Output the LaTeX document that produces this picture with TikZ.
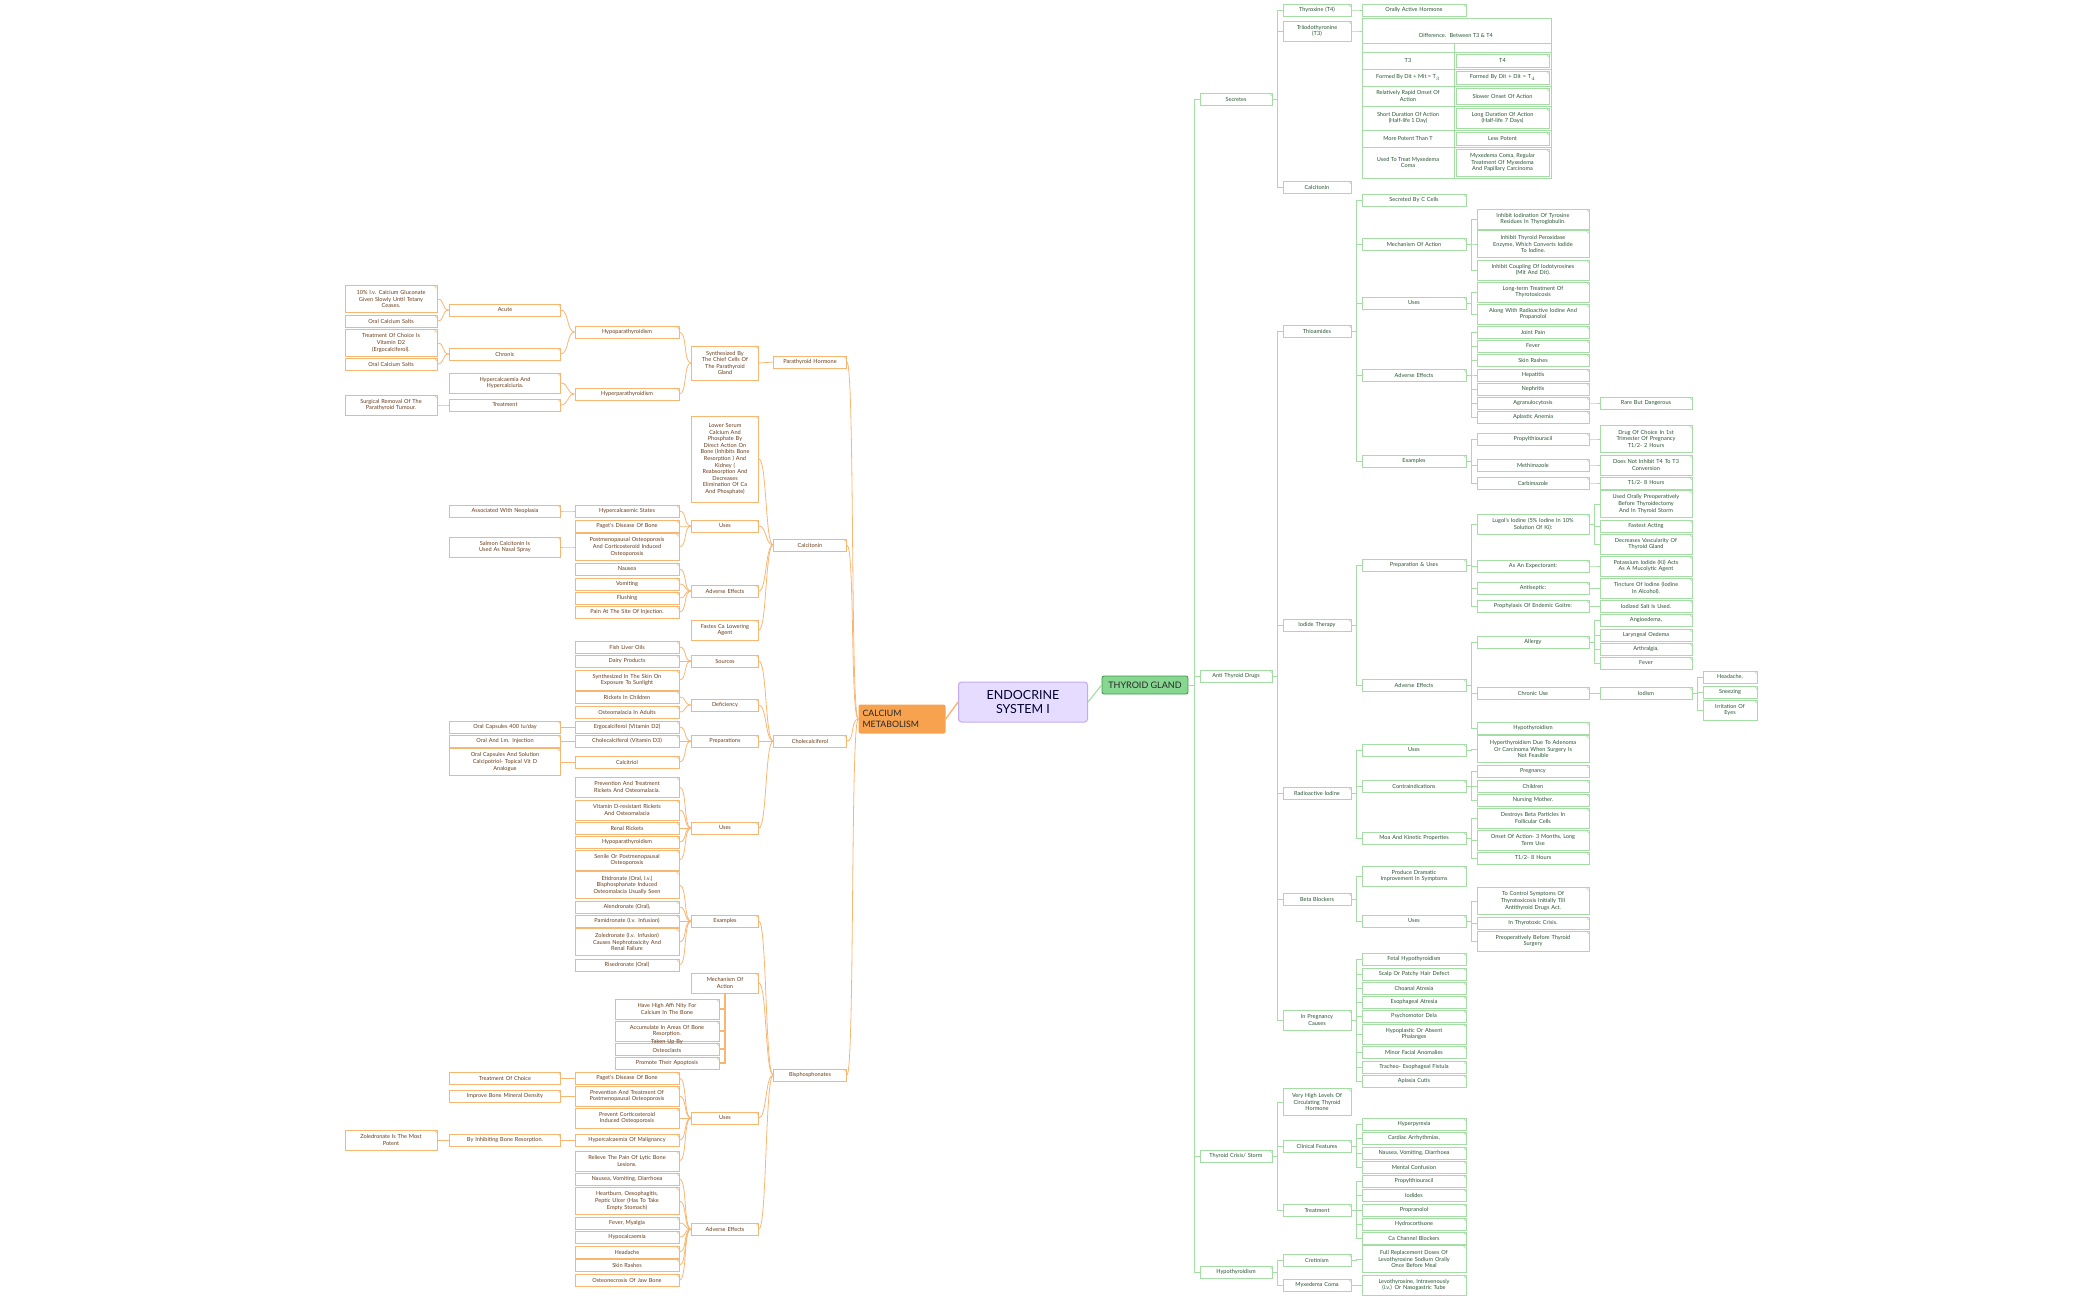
\documentclass[tikz,border=0pt]{standalone}
\usepackage{fontspec}
\setmainfont{Lato}
\definecolor{gline}{RGB}{165,222,165}
\definecolor{gtext}{RGB}{40,85,50}
\definecolor{oline}{RGB}{248,182,115}
\definecolor{otext}{RGB}{105,60,25}
\definecolor{lav}{RGB}{230,220,255}
\definecolor{lavb}{RGB}{195,170,240}
\definecolor{thyf}{RGB}{135,215,145}
\definecolor{thyb}{RGB}{60,150,75}
\definecolor{cmf}{RGB}{246,162,78}
\newcommand\fs{\fontsize{5.6}{6.6}\selectfont}
\tikzset{
 gb/.style={draw=gline,line width=0.7pt,fill=white,text=gtext,align=center,inner xsep=2pt,inner ysep=0pt,font=\fs,
   path picture={\draw[gline,line width=0.5pt] ([xshift=-3pt]path picture bounding box.north east) -- ([yshift=-3pt]path picture bounding box.north east);}},
 ob/.style={draw=oline,line width=0.7pt,fill=white,text=otext,align=center,inner xsep=2pt,inner ysep=0pt,font=\fs,
   path picture={\draw[oline,line width=0.5pt] ([xshift=-3pt]path picture bounding box.north east) -- ([yshift=-3pt]path picture bounding box.north east);}},
 ge/.style={draw=gline,line width=0.8pt},
 oe/.style={draw=oline,line width=0.8pt},
 tc/.style={text=gtext,align=center,font=\fs,inner sep=0pt},
}
\newcommand\B[7]{\pgfmathsetmacro\tw{#5-4}\node[#1,text width=\tw pt,minimum height=#6pt] (#2) at (#3,#4) {#7};}
\newcommand\gA[4]{\B{gb}{#1}{1236}{#2}{72}{#3}{#4}}
\newcommand\gB[4]{\B{gb}{#1}{1317}{#2}{68}{#3}{#4}}
\newcommand\gC[4]{\B{gb}{#1}{1414}{#2}{104}{#3}{#4}}
\newcommand\gD[4]{\B{gb}{#1}{1533}{#2}{112}{#3}{#4}}
\newcommand\gE[4]{\B{gb}{#1}{1646}{#2}{92}{#3}{#4}}
\newcommand\gF[4]{\B{gb}{#1}{1730}{#2}{54}{#3}{#4}}
\newcommand\oA[4]{\B{ob}{#1}{810}{#2}{73}{#3}{#4}}
\newcommand\oB[4]{\B{ob}{#1}{725}{#2}{67}{#3}{#4}}
\newcommand\oC[4]{\B{ob}{#1}{627}{#2}{104}{#3}{#4}}
\newcommand\oD[4]{\B{ob}{#1}{505}{#2}{111}{#3}{#4}}
\newcommand\oE[4]{\B{ob}{#1}{391}{#2}{92}{#3}{#4}}
\newcommand\oM[4]{\B{ob}{#1}{667}{#2}{104}{#3}{#4}}
\newcommand\GEdge[2]{\foreach \c in {#2}{\draw[ge] (#1.east) -- ++(5.5,0) |- (\c.west);}}
\newcommand\OEdge[2]{\foreach \c in {#2}{\draw[oe] (#1.west) .. controls +(-8,0) and +(8,0) .. (\c.east);}}
\begin{document}
\begin{tikzpicture}[x=1pt,y=-1pt]
\useasboundingbox (0,0) rectangle (2099,1299);
% headers
\node[draw=lavb,fill=lav,line width=1pt,rounded corners=3pt,minimum width=129pt,minimum height=40pt,align=center,text=black!80!blue,font=\fontsize{12.5}{14}\selectfont,inner sep=0pt] (endo) at (1023,702) {ENDOCRINE\\SYSTEM I};
\node[draw=thyb,fill=thyf,line width=0.8pt,rounded corners=2pt,minimum width=86pt,minimum height=18pt,text=black!85,font=\fontsize{9}{10}\selectfont,inner sep=0pt] (thy) at (1145,685) {THYROID GLAND};
\node[fill=cmf,rounded corners=2pt,minimum width=87pt,minimum height=29pt,text width=79pt,align=left,text=black!85,font=\fontsize{8.8}{10.5}\selectfont,inner xsep=4pt,inner ysep=0pt] (cm) at (902,719) {CALCIUM\\METABOLISM};
\draw[ge,line width=1.2pt] (endo.east) -- (thy.west);
\draw[oe,line width=1.4pt] (cm.east) -- (endo.west);
% ===== green =====
\gA{sec}{99}{12}{Secretes}
\gA{atd}{676}{12}{Anti Thyroid Drugs}
\gA{tcs}{1156}{12}{Thyroid Crisis/ Storm}
\gA{hypo}{1272}{12}{Hypothyroidism}
\gB{t4}{10}{12}{Thyroxine (T4)}
\gB{t3}{31}{20}{Triiodothyronine\\(T3)}
\gB{calc}{187}{12}{Calcitonin}
\gB{thio}{331}{12}{Thioamides}
\gB{iod}{625}{12}{Iodide Therapy}
\gB{rai}{793}{12}{Radioactive Iodine}
\gB{bb}{899}{12}{Beta Blockers}
\gB{preg}{1020}{20}{In Pregnancy\\Causes}
\gB{vhl}{1102}{27}{Very High Levels Of\\Circulating Thyroid\\Hormone}
\gB{cf}{1146}{12}{Clinical Features}
\gB{trt}{1210}{12}{Treatment}
\gB{cret}{1260}{12}{Cretinism}
\gB{myx}{1285}{12}{Myxedema Coma}
\gC{oah}{10}{12}{Orally Active Hormone}
\gC{scc}{200}{12}{Secreted By C Cells}
\gC{moa}{244}{12}{Mechanism Of Action}
\gC{tuse}{303}{12}{Uses}
\gC{tae}{375}{12}{Adverse Effects}
\gC{tex}{461}{12}{Examples}
\gC{pu}{565}{12}{Preparation \& Uses}
\gC{iae}{685}{12}{Adverse Effects}
\gC{ruse}{750}{12}{Uses}
\gC{rci}{786}{12}{Contraindications}
\gC{rmoa}{838}{12}{Moa And Kinetic Properties}
\gC{bpd}{876}{20}{Produce Dramatic\\Improvement In Symptoms}
\gC{buse}{921}{12}{Uses}
\gC{p1}{959}{12}{Fetal Hypothyroidism}
\gC{p2}{974}{12}{Scalp Or Patchy Hair Defect}
\gC{p3}{988}{12}{Choanal Atresia}
\gC{p4}{1002}{12}{Esophageal Atresia}
\gC{p5}{1016}{12}{Psychomotor Dela}
\gC{p6}{1034}{20}{Hypoplastic Or Absent\\Phalanges}
\gC{p7}{1052}{12}{Minor Facial Anomalies}
\gC{p8}{1067}{12}{Tracheo- Esophageal Fistula}
\gC{p9}{1081}{12}{Aplasia Cutis}
\gC{c1}{1124}{12}{Hyperpyrexia}
\gC{c2}{1138}{12}{Cardiac Arrhythmias,}
\gC{c3}{1153}{12}{Nausea, Vomiting, Diarrhoea}
\gC{c4}{1167}{12}{Mental Confusion}
\gC{r1}{1181}{12}{Propylthiouracil}
\gC{r2}{1195}{12}{Iodides}
\gC{r3}{1210}{12}{Propranolol}
\gC{r4}{1224}{12}{Hydrocortisone}
\gC{r5}{1238}{12}{Ca Channel Blockers}
\gC{fr}{1259}{27}{Full Replacement Doses Of\\Levothyroxine Sodium Orally\\Once Before Meal}
\gC{lev}{1285}{20}{Levothyroxine, Intravenously\\(i.v.) Or Nasogastric Tube}
\gD{m1}{219}{20}{Inhibit Iodination Of Tyrosine\\Residues In Thyroglobulin.}
\gD{m2}{244}{27}{Inhibit Thyroid Peroxidase\\Enzyme, Which Converts Iodide\\To Iodine.}
\gD{m3}{270}{20}{Inhibit Coupling Of Iodotyrosines\\(Mit And Dit).}
\gD{u1}{292}{20}{Long-term Treatment Of\\Thyrotoxicosis}
\gD{u2}{314}{20}{Along With Radioactive Iodine And\\Propanolol}
\gD{a1}{332}{12}{Joint Pain}
\gD{a2}{346}{12}{Fever}
\gD{a3}{360}{12}{Skin Rashes}
\gD{a4}{375}{12}{Hepatitis}
\gD{a5}{389}{12}{Nephritis}
\gD{a6}{403}{12}{Agranulocytosis}
\gD{a7}{417}{12}{Aplastic Anemia}
\gD{e1}{439}{12}{Propylthiouracil}
\gD{e2}{465}{12}{Methimazole}
\gD{e3}{483}{12}{Carbimazole}
\gD{lug}{524}{20}{Lugol's Iodine (5\% Iodine In 10\%\\Solution Of Ki):}
\gD{exp}{566}{12}{As An Expectorant:}
\gD{ant}{588}{12}{Antiseptic:}
\gD{pro}{606}{12}{Prophylaxis Of Endemic Goitre:}
\gD{all}{642}{12}{Allergy}
\gD{chr}{693}{12}{Chronic Use}
\gD{ihy}{728}{12}{Hypothyroidism}
\gD{ru1}{749}{27}{Hyperthyroidism Due To Adenoma\\Or Carcinoma When Surgery Is\\Not Feasible}
\gD{rc1}{771}{12}{Pregnancy}
\gD{rc2}{786}{12}{Children}
\gD{rc3}{800}{12}{Nursing Mother.}
\gD{rm1}{818}{20}{Destroys Beta Particles In\\Follicular Cells}
\gD{rm2}{840}{20}{Onset Of Action- 3 Months, Long\\Term Use}
\gD{rm3}{858}{12}{T1/2- 8 Hours}
\gD{bu1}{901}{27}{To Control Symptoms Of\\Thyrotoxicosis Initially Till\\Antithyroid Drugs Act.}
\gD{bu2}{923}{12}{In Thyrotoxic Crisis.}
\gD{bu3}{941}{20}{Preoperatively Before Thyroid\\Surgery}
\gE{rbd}{403}{12}{Rare But Dangerous}
\gE{x1}{439}{27}{Drug Of Choice In 1st\\Trimester Of Pregnancy\\T1/2- 2 Hours}
\gE{x2}{465}{20}{Does Not Inhibit T4 To T3\\Conversion}
\gE{x3}{483}{12}{T1/2- 8 Hours}
\gE{l1}{504}{27}{Used Orally Preoperatively\\Before Thyroidectomy\\And In Thyroid Storm}
\gE{l2}{526}{12}{Fastest Acting}
\gE{l3}{544}{20}{Decreases Vascularity Of\\Thyroid Gland}
\gE{ex1}{566}{20}{Potassium Iodide (Ki) Acts\\As A Mucolytic Agent}
\gE{an1}{588}{20}{Tincture Of Iodine (Iodine\\In Alcohol).}
\gE{pr1}{606}{12}{Iodized Salt Is Used.}
\gE{al1}{620}{12}{Angioedema,}
\gE{al2}{635}{12}{Laryngeal Oedema}
\gE{al3}{649}{12}{Arthralgia,}
\gE{al4}{663}{12}{Fever}
\gE{ism}{693}{12}{Iodism}
\gF{h1}{677}{12}{Headache,}
\gF{h2}{692}{12}{Sneezing}
\gF{h3}{710}{20}{Irritation Of\\Eyes}
% table
\draw[gline,line width=0.7pt] (1362,18) rectangle (1551,178);
\foreach \yy in {43,52,69,86,106,130,147} \draw[gline,line width=0.7pt] (1362,\yy) -- (1551,\yy);
\draw[gline,line width=0.7pt] (1454,43) -- (1454,178);
\coordinate (tw) at (1362,31);
\node[tc] (tt) at (1456,35) {Difference.~ Between T3 \& T4};
\node[tc] (tl1) at (1408,60.5) {T3};
\node[tc] (tl2) at (1408,77.5) {Formed By Dit + Mit = T$_3$};
\node[tc] (tl3) at (1408,96) {Relatively Rapid Onset Of\\Action};
\node[tc] (tl4) at (1408,118) {Short Duration Of Action\\(Half-life 1 Day)};
\node[tc] (tl5) at (1408,138.5) {More Potent Than T};
\node[tc] (tl6) at (1408,162.5) {Used To Treat Myxedema\\Coma};
\B{gb}{tr1}{1502.5}{60.5}{93}{13}{T4}
\B{gb}{tr2}{1502.5}{77.5}{93}{13}{Formed By Dit + Dit = T$_4$}
\B{gb}{tr3}{1502.5}{96}{93}{16}{Slower Onset Of Action}
\B{gb}{tr4}{1502.5}{118}{93}{20}{Long Duration Of Action\\(Half-life 7 Days)}
\B{gb}{tr5}{1502.5}{138.5}{93}{13}{Less Potent}
\B{gb}{tr6}{1502.5}{162.5}{93}{27}{Myxedema Coma, Regular\\Treatment Of Myxedema\\And Papillary Carcinoma}
% green edges
\GEdge{thy}{sec,atd,tcs,hypo}
\GEdge{sec}{t4,t3,calc}
\GEdge{t4}{oah}
\draw[ge] (t3.east) -- ++(5.5,0) |- (tw);
\GEdge{thio}{scc,moa,tuse,tae,tex}
\GEdge{moa}{m1,m2,m3}
\GEdge{tuse}{u1,u2}
\GEdge{tae}{a1,a2,a3,a4,a5,a6,a7}
\GEdge{a6}{rbd}
\GEdge{tex}{e1,e2,e3}
\GEdge{e1}{x1}\GEdge{e2}{x2}\GEdge{e3}{x3}
\GEdge{atd}{thio,iod,rai,bb,preg}
\GEdge{iod}{pu,iae}
\GEdge{pu}{lug,exp,ant,pro}
\GEdge{lug}{l1,l2,l3}
\GEdge{exp}{ex1}\GEdge{ant}{an1}\GEdge{pro}{pr1}
\GEdge{iae}{all,chr,ihy}
\GEdge{all}{al1,al2,al3,al4}
\GEdge{chr}{ism}
\GEdge{ism}{h1,h2,h3}
\GEdge{rai}{ruse,rci,rmoa}
\GEdge{ruse}{ru1}
\GEdge{rci}{rc1,rc2,rc3}
\GEdge{rmoa}{rm1,rm2,rm3}
\GEdge{bb}{bpd,buse}
\GEdge{buse}{bu1,bu2,bu3}
\GEdge{preg}{p1,p2,p3,p4,p5,p6,p7,p8,p9}
\GEdge{tcs}{vhl,cf,trt}
\GEdge{cf}{c1,c2,c3,c4}
\GEdge{trt}{r1,r2,r3,r4,r5}
\GEdge{hypo}{cret,myx}
\GEdge{cret}{fr}\GEdge{myx}{lev}
% ===== orange =====
\oA{pth}{362}{12}{Parathyroid Hormone}
\oA{ctn}{545}{12}{Calcitonin}
\oA{chol}{741}{12}{Cholecalciferol}
\oA{bis}{1075}{12}{Bisphosphonates}
\oB{syn}{363}{34}{Synthesized By\\The Chief Cells Of\\The Parathyroid\\Gland}
\oB{low}{459}{86}{Lower Serum\\Calcium And\\Phosphate By\\Direct Action On\\Bone (Inhibits Bone\\Resorption ) And\\Kidney (\\Reabsorption And\\Decreases\\Elimination Of Ca\\And Phosphate)}
\oB{cuse}{526}{12}{Uses}
\oB{cae}{591}{12}{Adverse Effects}
\oB{fas}{630}{20}{Fastes Ca Lowering\\Agent}
\oB{src}{661}{12}{Sources}
\oB{def}{705}{12}{Deficiency}
\oB{prep}{741}{12}{Preparations}
\oB{duse}{828}{12}{Uses}
\oB{bex}{921}{12}{Examples}
\oB{bmoa}{983}{20}{Mechanism Of\\Action}
\oB{buse2}{1118}{12}{Uses}
\oB{bae}{1229}{12}{Adverse Effects}
\oC{hpo}{332}{12}{Hypoparathyroidism}
\oC{hpe}{394}{12}{Hyperparathyroidism}
\oC{hcs}{511}{12}{Hypercalcaemic States}
\oC{pdb}{526}{12}{Paget's Disease Of Bone}
\oC{pmo}{547}{27}{Postmenopausal Osteoporosis\\And Corticosteroid Induced\\Osteoporosis}
\oC{n1}{569}{12}{Nausea}
\oC{n2}{584}{12}{Vomiting}
\oC{n3}{598}{12}{Flushing}
\oC{n4}{612}{12}{Pain At The Site Of Injection.}
\oC{s1}{647}{12}{Fish Liver Oils}
\oC{s2}{661}{12}{Dairy Products}
\oC{s3}{680}{20}{Synthesized In The Skin On\\Exposure To Sunlight}
\oC{d1}{697}{12}{Rickets In Children}
\oC{d2}{712}{12}{Osteomalacia In Adults}
\oC{pp1}{727}{12}{Ergocalciferol (Vitamin D2)}
\oC{pp2}{741}{12}{Cholecalciferol (Vitamin D3)}
\oC{pp3}{762}{12}{Calcitriol}
\oC{du1}{787}{20}{Prevention And Treatment\\Rickets And Osteomalacia.}
\oC{du2}{810}{20}{Vitamin D-resistant Rickets\\And Osteomalacia}
\oC{du3}{828}{12}{Renal Rickets}
\oC{du4}{842}{12}{Hypoparathyroidism}
\oC{du5}{860}{20}{Senile Or Postmenopausal\\Osteoporosis}
\oC{eo1}{885}{27}{Etidronate (Oral, I.v.)\\Bisphosphanate Induced\\Osteomalacia Usually Seen}
\oC{eo2}{907}{12}{Alendronate (Oral),}
\oC{eo3}{921}{12}{Pamidronate (I.v. Infusion)}
\oC{eo4}{942}{27}{Zoledronate (I.v. Infusion)\\Causes Nephrotoxicity And\\Renal Failure}
\oC{eo5}{965}{12}{Risedronate (Oral)}
\oC{bo1}{1078}{12}{Paget's Disease Of Bone}
\oC{bo2}{1096}{20}{Prevention And Treatment Of\\Postmenopausal Osteoporosis}
\oC{bo3}{1118}{20}{Prevent Corticosteroid\\Induced Osteoporosis}
\oC{bo4}{1140}{12}{Hypercalcaemia Of Malignancy}
\oC{bo5}{1161}{20}{Relieve The Pain Of Lytic Bone\\Lesions.}
\oC{ba1}{1179}{12}{Nausea, Vomiting, Diarrhoea}
\oC{ba2}{1201}{27}{Heartburn, Oesophagitis,\\Peptic Ulcer (Has To Take\\Empty Stomach)}
\oC{ba3}{1223}{12}{Fever, Myalgia}
\oC{ba4}{1237}{12}{Hypocalcaemia}
\oC{ba5}{1252}{12}{Headache}
\oC{ba6}{1265}{12}{Skin Rashes}
\oC{ba7}{1280}{12}{Osteonecrosis Of Jaw Bone}
\oM{mm1}{1009}{20}{Have High Affi Nity For\\Calcium In The Bone}
\oM{mm2}{1031}{20}{Accumulate In Areas Of Bone\\Resorption.}
\oM{mm3}{1049}{12}{\raisebox{-3pt}[0pt][0pt]{\shortstack{Taken Up By\\Osteoclasts}}}
\oM{mm4}{1063}{12}{Promote Their Apoptosis}
\oD{acu}{310}{12}{Acute}
\oD{chrn}{354}{12}{Chronic}
\oD{hh}{383}{20}{Hypercalcaemia And\\Hypercalciuria.}
\oD{tr}{405}{12}{Treatment}
\oD{awn}{511}{12}{Associated With Neoplasia}
\oD{sal}{547}{20}{Salmon Calcitonin Is\\Used As Nasal Spray}
\oD{oc4}{727}{12}{Oral Capsules 400 Iu/day}
\oD{oim}{741}{12}{Oral And I.m. Injection}
\oD{ocs}{762}{27}{Oral Capsules And Solution\\Calcipotriol- Topical Vit D\\Analogue}
\oD{toc}{1078}{12}{Treatment Of Choice}
\oD{ibm}{1096}{12}{Improve Bone Mineral Density}
\oD{bib}{1140}{12}{By Inhibiting Bone Resorption.}
\oE{iv}{299}{27}{10\% I.v. Calcium Gluconate\\Given Slowly Until Tetany\\Ceases.}
\oE{ocs1}{321}{12}{Oral Calcium Salts}
\oE{tcv}{343}{27}{Treatment Of Choice Is\\Vitamin D2\\(Ergocalciferol).}
\oE{ocs2}{364}{12}{Oral Calcium Salts}
\oE{sr}{405}{20}{Surgical Removal Of The\\Parathyroid Tumour.}
\oE{zol}{1140}{20}{Zoledronate Is The Most\\Potent}
% orange edges
\OEdge{cm}{pth,ctn,chol,bis}
\OEdge{pth}{syn}
\OEdge{syn}{hpo,hpe}
\OEdge{hpo}{acu,chrn}
\OEdge{hpe}{hh,tr}
\OEdge{acu}{iv,ocs1}
\OEdge{chrn}{tcv,ocs2}
\OEdge{tr}{sr}
\OEdge{ctn}{low,cuse,cae,fas}
\OEdge{cuse}{hcs,pdb,pmo}
\OEdge{hcs}{awn}
\OEdge{pmo}{sal}
\OEdge{cae}{n1,n2,n3,n4}
\OEdge{chol}{src,def,prep,duse}
\OEdge{src}{s1,s2,s3}
\OEdge{def}{d1,d2}
\OEdge{prep}{pp1,pp2,pp3}
\OEdge{pp1}{oc4}\OEdge{pp2}{oim}\OEdge{pp3}{ocs}
\OEdge{duse}{du1,du2,du3,du4,du5}
\OEdge{bis}{bex,bmoa,buse2,bae}
\OEdge{bex}{eo1,eo2,eo3,eo4,eo5}
\OEdge{buse2}{bo1,bo2,bo3,bo4,bo5}
\OEdge{bo1}{toc}\OEdge{bo2}{ibm}\OEdge{bo4}{bib}\OEdge{bib}{zol}
\OEdge{bae}{ba1,ba2,ba3,ba4,ba5,ba6,ba7}
\foreach \c in {mm1,mm2,mm3,mm4}{\draw[oe,line width=1.2pt] (bmoa.south) |- (\c.east);}
\end{tikzpicture}
\end{document}
